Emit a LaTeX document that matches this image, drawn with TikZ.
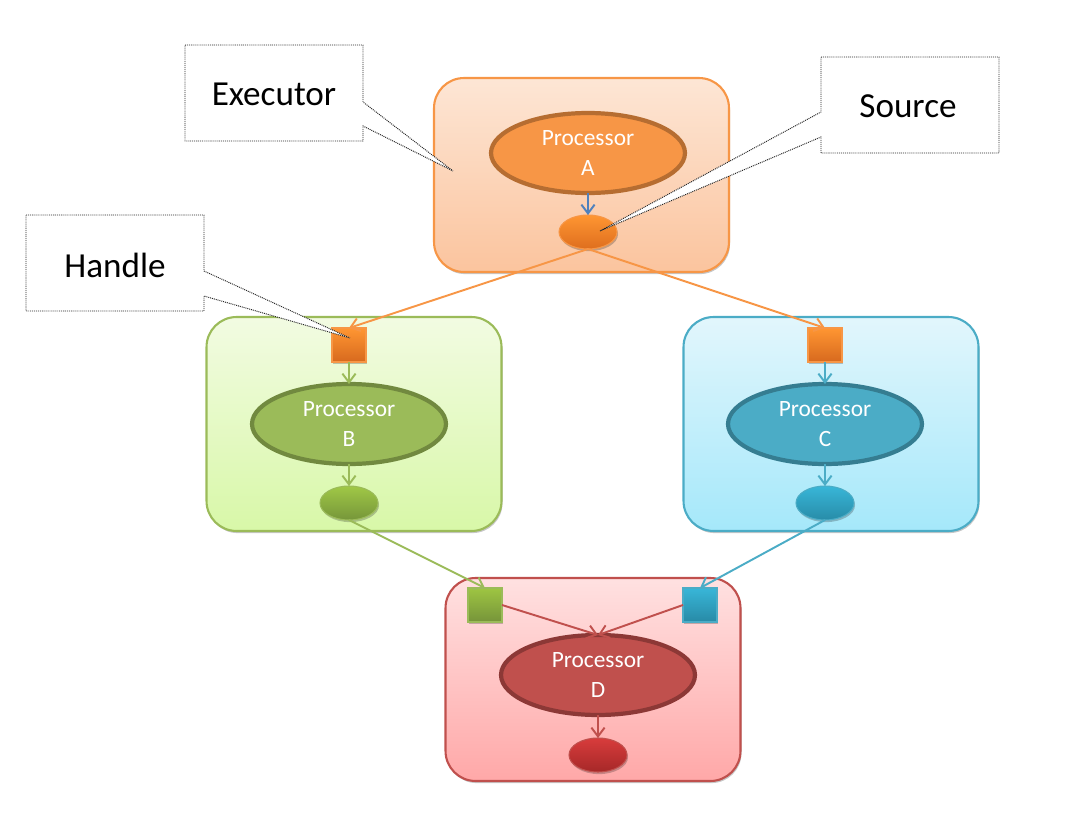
\documentclass[tikz,border=0pt]{standalone}
\usepackage{fontspec}
\setmainfont{Carlito}
\usetikzlibrary{shapes.geometric,arrows.meta,shadows}
\definecolor{orA}{RGB}{247,150,70}
\definecolor{orAd}{RGB}{182,109,49}
\definecolor{grB}{RGB}{155,187,89}
\definecolor{grBd}{RGB}{113,137,63}
\definecolor{blC}{RGB}{75,172,198}
\definecolor{blCd}{RGB}{53,125,145}
\definecolor{rdD}{RGB}{192,80,77}
\definecolor{rdDd}{RGB}{140,56,54}
\definecolor{blArr}{RGB}{79,129,189}
\tikzset{
  shad/.style={drop shadow={shadow xshift=0.6pt,shadow yshift=-1.2pt,opacity=0.22,fill=black}},
  exbox/.style={rectangle,rounded corners=0.6cm,minimum width=5.9cm,line width=1.2pt,inner sep=0pt,outer sep=0pt,shad},
  proc/.style={ellipse,minimum width=3.88cm,minimum height=1.6cm,line width=2.4pt,inner sep=0pt,outer sep=0pt,
     text=white,align=center,font=\fontsize{13.3}{16.6}\selectfont},
  port/.style={ellipse,minimum width=1.16cm,minimum height=0.68cm,inner sep=0pt,outer sep=0pt,line width=0.6pt,shad},
  handle/.style={rectangle,minimum width=0.68cm,minimum height=0.68cm,inner sep=0pt,outer sep=0pt,line width=0.8pt,shad},
  conn/.style={line width=1.1pt,-{Straight Barb[length=5pt,width=7.5pt]}},
  calltext/.style={inner sep=0pt,font=\fontsize{20}{24}\selectfont},
  callline/.style={draw=black!85,fill=white,line width=0.55pt,dash pattern=on 0.55pt off 0.55pt},
}
\begin{document}
\begin{tikzpicture}[x=0.02cm,y=-0.02cm]
\useasboundingbox (0,0) rectangle (1090,818);
% executor boxes
\node[exbox,minimum height=3.88cm,draw=orA,top color={rgb,255:red,253;green,230;blue,213},bottom color={rgb,255:red,251;green,196;blue,158}] (boxA) at (581.5,175) {};
\node[exbox,minimum height=4.28cm,draw=grB,top color={rgb,255:red,242;green,251;blue,226},bottom color={rgb,255:red,216;green,248;blue,168}] (boxB) at (354,424) {};
\node[exbox,minimum height=4.28cm,draw=blC,top color={rgb,255:red,226;green,246;blue,252},bottom color={rgb,255:red,165;green,232;blue,250}] (boxC) at (831,424) {};
\node[exbox,minimum height=4.06cm,draw=rdD,top color={rgb,255:red,255;green,225;blue,225},bottom color={rgb,255:red,255;green,168;blue,168}] (boxD) at (593,679.5) {};
% processors
\node[proc,fill=orA,draw=orAd] (procA) at (588,153) {Processor\\A};
\node[proc,fill=grB,draw=grBd] (procB) at (349,424) {Processor\\B};
\node[proc,fill=blC,draw=blCd] (procC) at (825,424) {Processor\\C};
\node[proc,fill=rdD,draw=rdDd] (procD) at (598,675) {Processor\\D};
% sources / outputs
\node[port,draw=orA,top color={rgb,255:red,255;green,150;blue,50},bottom color={rgb,255:red,222;green,110;blue,30}] (srcA) at (588,232) {};
\node[port,draw=grB,top color={rgb,255:red,160;green,200;blue,70},bottom color={rgb,255:red,118;green,150;blue,58}] (outB) at (349,503) {};
\node[port,draw=blC,top color={rgb,255:red,56;green,182;blue,216},bottom color={rgb,255:red,40;green,140;blue,168}] (outC) at (825,503) {};
\node[port,draw=rdD,top color={rgb,255:red,216;green,60;blue,60},bottom color={rgb,255:red,166;green,40;blue,40}] (outD) at (598,755) {};
% handles
\node[handle,draw=orA,top color={rgb,255:red,255;green,150;blue,50},bottom color={rgb,255:red,215;green,105;blue,30}] (hB) at (349,345) {};
\node[handle,draw=orA,top color={rgb,255:red,255;green,150;blue,50},bottom color={rgb,255:red,215;green,105;blue,30}] (hC) at (825,345) {};
\node[handle,draw=grB,top color={rgb,255:red,158;green,197;blue,66},bottom color={rgb,255:red,118;green,148;blue,58}] (dG) at (485,605) {};
\node[handle,draw=blC,top color={rgb,255:red,56;green,182;blue,216},bottom color={rgb,255:red,40;green,138;blue,166}] (dB) at (700,605) {};
% connectors
\draw[conn,draw=blArr] (procA) -- (srcA);
\draw[conn,draw=orA] (srcA.south) -- (hB.north);
\draw[conn,draw=orA] (srcA.south) -- (hC.north);
\draw[conn,draw=grB] (hB) -- (procB);
\draw[conn,draw=grB] (procB) -- (outB);
\draw[conn,draw=blC] (hC) -- (procC);
\draw[conn,draw=blC] (procC) -- (outC);
\draw[conn,draw=grB] (outB.south) -- (dG.north);
\draw[conn,draw=blC] (outC.south) -- (dB.north);
\draw[conn,draw=rdD] (dG.east) -- (procD.north);
\draw[conn,draw=rdD] (dB.west) -- (procD.north);
\draw[conn,draw=rdD] (procD) -- (outD);
% callouts
\draw[callline] (185,45) -- (363,45) -- (363,102) -- (453,171) -- (363,126) -- (363,141) -- (185,141) -- cycle;
\node[calltext] (exe) at (274,94) {Executor};
\draw[callline] (821,57) -- (999,57) -- (999,153) -- (821,153) -- (821,137) -- (600,231) -- (821,112) -- cycle;
\node[calltext] (src) at (908,106) {Source};
\draw[callline] (26,215) -- (204,215) -- (204,271) -- (350,338) -- (204,296) -- (204,311) -- (26,311) -- cycle;
\node[calltext] (hdl) at (115,265) {Handle};
\end{tikzpicture}
\end{document}
